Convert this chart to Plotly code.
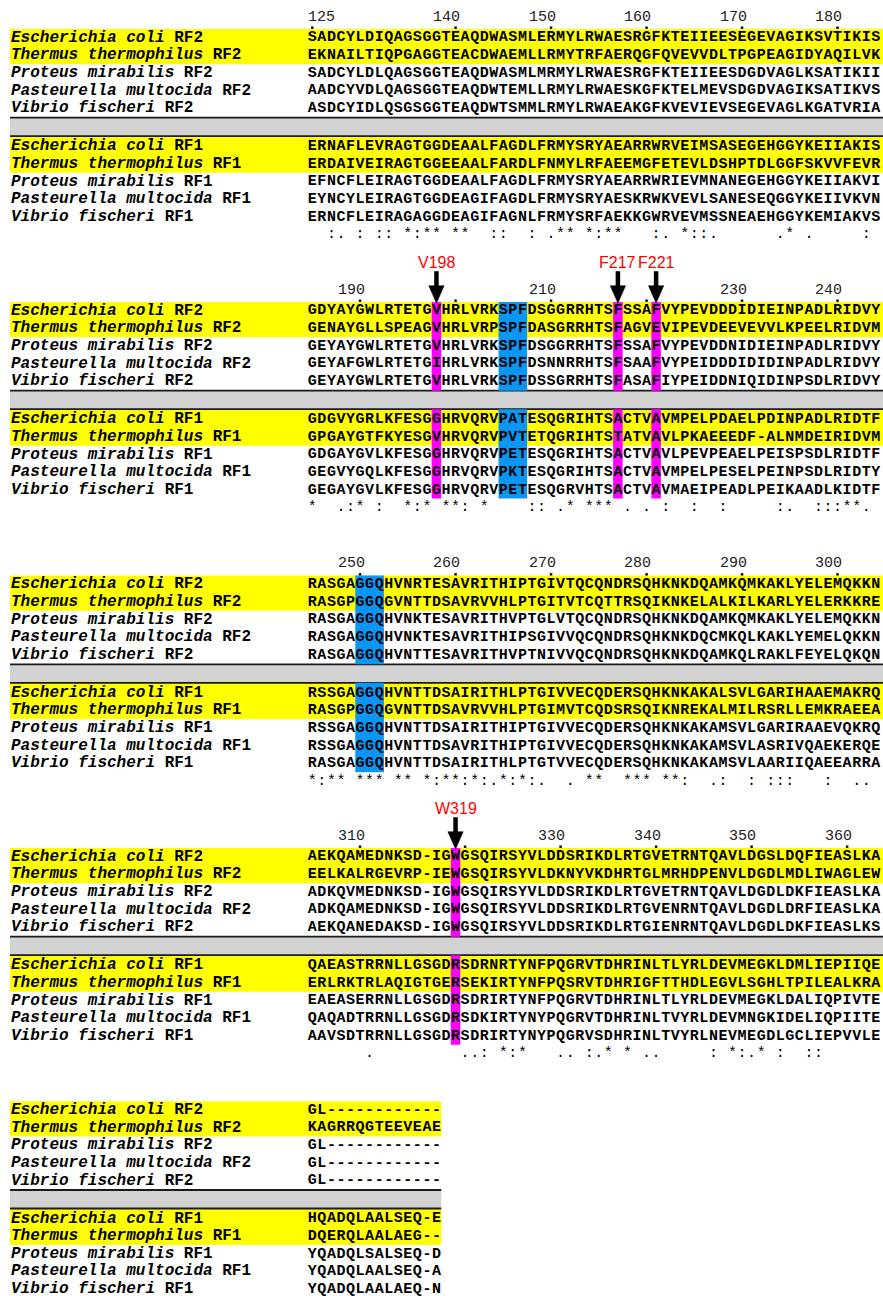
import re
import plotly.graph_objects as go

# ---------------- data ----------------
SPECIES = ["Escherichia coli", "Thermus thermophilus", "Proteus mirabilis",
           "Pasteurella multocida", "Vibrio fischeri"]
FACTORS = ["RF2", "RF1"]
HIGHLIGHTED_SPECIES = ["Escherichia coli", "Thermus thermophilus"]

RF2_BLOCK1 = [
    "SADCYLDIQAGSGGTEAQDWASMLERMYLRWAESRGFKTEIIEESEGEVAGIKSVTIKIS",
    "EKNAILTIQPGAGGTEACDWAEMLLRMYTRFAERQGFQVEVVDLTPGPEAGIDYAQILVK",
    "SADCYLDLQAGSGGTEAQDWASMLMRMYLRWAESRGFKTEIIEESDGDVAGLKSATIKII",
    "AADCYVDLQAGSGGTEAQDWTEMLLRMYLRWAESKGFKTELMEVSDGDVAGIKSATIKVS",
    "ASDCYIDLQSGSGGTEAQDWTSMMLRMYLRWAEAKGFKVEVIEVSEGEVAGLKGATVRIA",
]
RF1_BLOCK1 = [
    "ERNAFLEVRAGTGGDEAALFAGDLFRMYSRYAEARRWRVEIMSASEGEHGGYKEIIAKIS",
    "ERDAIVEIRAGTGGEEAALFARDLFNMYLRFAEEMGFETEVLDSHPTDLGGFSKVVFEVR",
    "EFNCFLEIRAGTGGDEAALFAGDLFRMYSRYAEARRWRIEVMNANEGEHGGYKEIIAKVI",
    "EYNCYLEIRAGTGGDEAGIFAGDLFRMYSRYAESKRWKVEVLSANESEQGGYKEIIVKVN",
    "ERNCFLEIRAGAGGDEAGIFAGNLFRMYSRFAEKKGWRVEVMSSNEAEHGGYKEMIAKVS",
]
RF2_BLOCK2 = [
    "GDYAYGWLRTETGVHRLVRKSPFDSGGRRHTSFSSAFVYPEVDDDIDIEINPADLRIDVY",
    "GENAYGLLSPEAGVHRLVRPSPFDASGRRHTSFAGVEVIPEVDEEVEVVLKPEELRIDVM",
    "GEYAYGWLRTETGVHRLVRKSPFDSGGRRHTSFSSAFVYPEVDDNIDIEINPADLRIDVY",
    "GEYAFGWLRTETGIHRLVRKSPFDSNNRRHTSFSAAFVYPEIDDDIDIDINPADLRIDVY",
    "GEYAYGWLRTETGVHRLVRKSPFDSSGRRHTSFASAFIYPEIDDNIQIDINPSDLRIDVY",
]
RF1_BLOCK2 = [
    "GDGVYGRLKFESGGHRVQRVPATESQGRIHTSACTVAVMPELPDAELPDINPADLRIDTF",
    "GPGAYGTFKYESGVHRVQRVPVTETQGRIHTSTATVAVLPKAEEEDF-ALNMDEIRIDVM",
    "GDGAYGVLKFESGGHRVQRVPETESQGRIHTSACTVAVLPEVPEAELPEISPSDLRIDTF",
    "GEGVYGQLKFESGGHRVQRVPKTESQGRIHTSACTVAVMPELPESELPEINPSDLRIDTY",
    "GEGAYGVLKFESGGHRVQRVPETESQGRVHTSACTVAVMAEIPEADLPEIKAADLKIDTF",
]
RF2_BLOCK3 = [
    "RASGAGGQHVNRTESAVRITHIPTGIVTQCQNDRSQHKNKDQAMKQMKAKLYELEMQKKN",
    "RASGPGGQGVNTTDSAVRVVHLPTGITVTCQTTRSQIKNKELALKILKARLYELERKKRE",
    "RASGAGGQHVNKTESAVRITHVPTGLVTQCQNDRSQHKNKDQAMKQMKAKLYELEMQKKN",
    "RASGAGGQHVNKTESAVRITHIPSGIVVQCQNDRSQHKNKDQCMKQLKAKLYEMELQKKN",
    "RASGAGGQHVNTTESAVRITHVPTNIVVQCQNDRSQHKNKDQAMKQLRAKLFEYELQKQN",
]
RF1_BLOCK3 = [
    "RSSGAGGQHVNTTDSAIRITHLPTGIVVECQDERSQHKNKAKALSVLGARIHAAEMAKRQ",
    "RASGPGGQGVNTTDSAVRVVHLPTGIMVTCQDSRSQIKNREKALMILRSRLLEMKRAEEA",
    "RSSGAGGQHVNTTDSAIRITHIPTGIVVECQDERSQHKNKAKAMSVLGARIRAAEVQKRQ",
    "RSSGAGGQHVNTTDSAVRITHIPTGIVVECQDERSQHKNKAKAMSVLASRIVQAEKERQE",
    "RASGAGGQHVNTTDSAIRITHLPTGTVVECQDERSQHKNKAKAMSVLAARIIQAEEARRA",
]
RF2_BLOCK4 = [
    "AEKQAMEDNKSD-IGWGSQIRSYVLDDSRIKDLRTGVETRNTQAVLDGSLDQFIEASLKA",
    "EELKALRGEVRP-IEWGSQIRSYVLDKNYVKDHRTGLMRHDPENVLDGDLMDLIWAGLEW",
    "ADKQVMEDNKSD-IGWGSQIRSYVLDDSRIKDLRTGVETRNTQAVLDGDLDKFIEASLKA",
    "ADKQAMEDNKSD-IGWGSQIRSYVLDDSRIKDLRTGVENRNTQAVLDGDLDRFIEASLKA",
    "AEKQANEDAKSD-IGWGSQIRSYVLDDSRIKDLRTGIENRNTQAVLDGDLDKFIEASLKS",
]
RF1_BLOCK4 = [
    "QAEASTRRNLLGSGDRSDRNRTYNFPQGRVTDHRINLTLYRLDEVMEGKLDMLIEPIIQE",
    "ERLRKTRLAQIGTGERSEKIRTYNFPQSRVTDHRIGFTTHDLEGVLSGHLTPILEALKRA",
    "EAEASERRNLLGSGDRSDRIRTYNFPQGRVTDHRINLTLYRLDEVMEGKLDALIQPIVTE",
    "QAQADTRRNLLGSGDRSDKIRTYNYPQGRVTDHRINLTVYRLDEVMNGKIDELIQPIITE",
    "AAVSDTRRNLLGSGDRSDRIRTYNYPQGRVSDHRINLTVYRLNEVMEGDLGCLIEPVVLE",
]
RF2_BLOCK5 = ["GL------------", "KAGRRQGTEEVEAE", "GL------------",
              "GL------------", "GL------------"]
RF1_BLOCK5 = ["HQADQLAALSEQ-E", "DQERQLAALAEG--", "YQADQLSALSEQ-D",
              "YQADQLAALSEQ-A", "YQADQLAALAEQ-N"]

CONSERVATION_BLOCK1 = ("  :. : :: " "*:** **  :" ":  : .** *" ":**   :. *"
                       "::.      ." "* .     : ")
CONSERVATION_BLOCK2 = ("*  .:* :  " "*:* **: * " "   :: .* *" "** . . :  "
                       ":  :     :" ".  :::**. ")
CONSERVATION_BLOCK3 = ("*:** *** *" "* *:**:*:." "*:*:.  . *" "*  *** **:"
                       "  .:  : ::" ":   :  .. ")
CONSERVATION_BLOCK4 = ("      .   " "      ..: " "*:*   .. :" ".* * ..   "
                       "  : *:.* :" "  ::      ")
CONSERVATION_BLOCK5 = ""

FIRST_RESIDUE = 125          # E. coli RF2 numbering of the first column
RULER_TICKS = [125, 140, 150, 160, 170, 180, 190, 200, 210, 220, 230, 240,
               250, 260, 270, 280, 290, 300, 310, 320, 330, 340, 350, 360]
RULER_UNLABELLED = [200, 220, 320]
SITE_LABELS = ["V198", "F217", "F221", "W319"]
MOTIF_RANGES = [(205, 207), (250, 252)]

BLOCKS = [(RF2_BLOCK1, RF1_BLOCK1), (RF2_BLOCK2, RF1_BLOCK2),
          (RF2_BLOCK3, RF1_BLOCK3), (RF2_BLOCK4, RF1_BLOCK4),
          (RF2_BLOCK5, RF1_BLOCK5)]
CONSERVATION = [CONSERVATION_BLOCK1, CONSERVATION_BLOCK2, CONSERVATION_BLOCK3,
                CONSERVATION_BLOCK4, CONSERVATION_BLOCK5]

# ---------------- layout constants (page pixels) ----------------
W, H = 883, 1296
COL0_PX, COL_W = 312.3, 9.55
FULL_WIDTH = 60


def px2col(px):
    return (px - COL0_PX) / COL_W


XMIN, XMAX = px2col(0), px2col(W)
BAND_X = px2col(10)
LABEL_X = px2col(8.5)
BLOCK_TOP = [37.7, 310.7, 584.3, 856.7, 1110.0]
ROW_H = 17.65
RF1_OFF = 108.5
SEP_TOP, SEP_BOT = 80.0, 98.5

MONO = "Liberation Mono, Courier New, monospace"
YELLOW = "#FFFF00"
MAGENTA = "#FF00FF"
BLUE = "#0A96F5"
GREY = "#D2D2D2"


def row_y(b, g, i):
    return BLOCK_TOP[b] + (RF1_OFF if g else 0) + i * ROW_H


# residue number -> (block, column) following E. coli RF2 (gaps skipped)
res_pos = {}
r = FIRST_RESIDUE
for b, (rf2, rf1) in enumerate(BLOCKS):
    for k, ch in enumerate(rf2[0]):
        if ch != "-":
            res_pos[r] = (b, k)
            r += 1

shapes = []
annotations = []
traces = []

for b, groups in enumerate(BLOCKS):
    top = BLOCK_TOP[b]
    ncols = len(groups[0][0])
    right = XMAX if ncols >= FULL_WIDTH else ncols - 0.5
    nhl = len(HIGHLIGHTED_SPECIES)
    for g in range(2):
        y0 = top - ROW_H / 2 if g == 0 else top + SEP_BOT
        y1 = row_y(b, g, nhl - 1) + ROW_H / 2
        shapes.append(dict(type="rect", xref="x", yref="y", x0=BAND_X, x1=right,
                           y0=y0, y1=y1, fillcolor=YELLOW, line_width=0, layer="below"))
    shapes.append(dict(type="rect", xref="x", yref="y", x0=BAND_X, x1=right,
                       y0=top + SEP_TOP, y1=top + SEP_BOT, fillcolor=GREY,
                       line_width=0, layer="below"))
    for yy in (top + SEP_TOP, top + SEP_BOT):
        shapes.append(dict(type="line", xref="x", yref="y", x0=BAND_X, x1=right,
                           y0=yy, y1=yy, line=dict(color="#1a1a1a", width=1.8),
                           layer="below"))

    xs, ys, ts = [], [], []
    for g in range(2):
        for i, seq in enumerate(groups[g]):
            for k, ch in enumerate(seq):
                xs.append(k)
                ys.append(row_y(b, g, i))
                ts.append(ch)
    traces.append(go.Scatter(x=xs, y=ys, text=ts, mode="text", hoverinfo="skip",
                             textfont=dict(family=MONO, size=15, color="#000000",
                                           weight="bold")))
    cons = CONSERVATION[b]
    cx = [k for k, ch in enumerate(cons) if ch != " "]
    if cx:
        cy = [row_y(b, 1, 5)] * len(cx)
        traces.append(go.Scatter(x=cx, y=cy, text=[cons[k] for k in cx], mode="text",
                                 hoverinfo="skip",
                                 textfont=dict(family=MONO, size=15, color="#000000")))
    for g, fac in enumerate(FACTORS):
        for i, sp in enumerate(SPECIES):
            annotations.append(dict(
                x=LABEL_X, y=row_y(b, g, i), xref="x", yref="y",
                xanchor="left", yanchor="middle", showarrow=False,
                text=f"<b><i>{sp}</i> {fac}</b>",
                font=dict(family=MONO, size=16, color="#000000")))


def column_box(b, c0, c1, color):
    top = BLOCK_TOP[b]
    for (y0, y1) in ((top - ROW_H / 2, top + SEP_TOP),
                     (top + SEP_BOT, row_y(b, 1, 4) + ROW_H / 2)):
        shapes.append(dict(type="rect", xref="x", yref="y", x0=c0 - 0.5, x1=c1 + 0.5,
                           y0=y0, y1=y1, fillcolor=color, line_width=0, layer="below"))


for (r0, r1) in MOTIF_RANGES:
    b0, c0 = res_pos[r0]
    b1, c1 = res_pos[r1]
    column_box(b0, c0, c1, BLUE)

for lab in SITE_LABELS:
    num = int(re.sub(r"\D", "", lab))
    b, c = res_pos[num]
    column_box(b, c, c, MAGENTA)
    top = BLOCK_TOP[b]
    shapes.append(dict(type="line", xref="x", yref="y", x0=c, x1=c,
                       y0=top - 39.5, y1=top - 23, line=dict(color="#000000", width=4.5)))
    shapes.append(dict(type="path", xref="x", yref="y",
                       path=f"M {c - 0.8},{top - 25} L {c + 0.8},{top - 25} L {c},{top - 7.5} Z",
                       fillcolor="#000000", line=dict(color="#000000", width=0.5)))
    annotations.append(dict(x=c, y=top - 48, xref="x", yref="y", xanchor="center",
                            yanchor="middle", showarrow=False, text=lab,
                            font=dict(family="Liberation Sans, Arial, sans-serif",
                                      size=16, color="#FF0000")))

dx, dy = [], []
for t in RULER_TICKS:
    b, c = res_pos[t]
    top = BLOCK_TOP[b]
    dx.append(c)
    dy.append(top - 10)
    if t in RULER_UNLABELLED:
        continue
    if c < 2:
        ax, anc = c - 0.5 - 0.2, "left"
    else:
        ax, anc = c + 0.5 + 0.2, "right"
    annotations.append(dict(x=ax, y=top - 20.5, xref="x", yref="y", xanchor=anc,
                            yanchor="middle", showarrow=False, text=str(t),
                            font=dict(family=MONO, size=15, color="#222222")))
traces.append(go.Scatter(x=dx, y=dy, mode="markers", hoverinfo="skip",
                         marker=dict(symbol="square", size=2.5, color="#111111")))

fig = go.Figure(traces)
fig.update_layout(
    width=W, height=H, margin=dict(l=0, r=0, t=0, b=0),
    paper_bgcolor="white", plot_bgcolor="white", showlegend=False,
    xaxis=dict(range=[XMIN, XMAX], visible=False, fixedrange=True),
    yaxis=dict(range=[H, 0], visible=False, fixedrange=True),
    shapes=shapes, annotations=annotations,
)
fig.write_html("out.html",
               config={"displayModeBar": False, "staticPlot": True},
               post_script="document.body.style.margin='0px';"
                           "document.body.style.overflow='hidden';")
